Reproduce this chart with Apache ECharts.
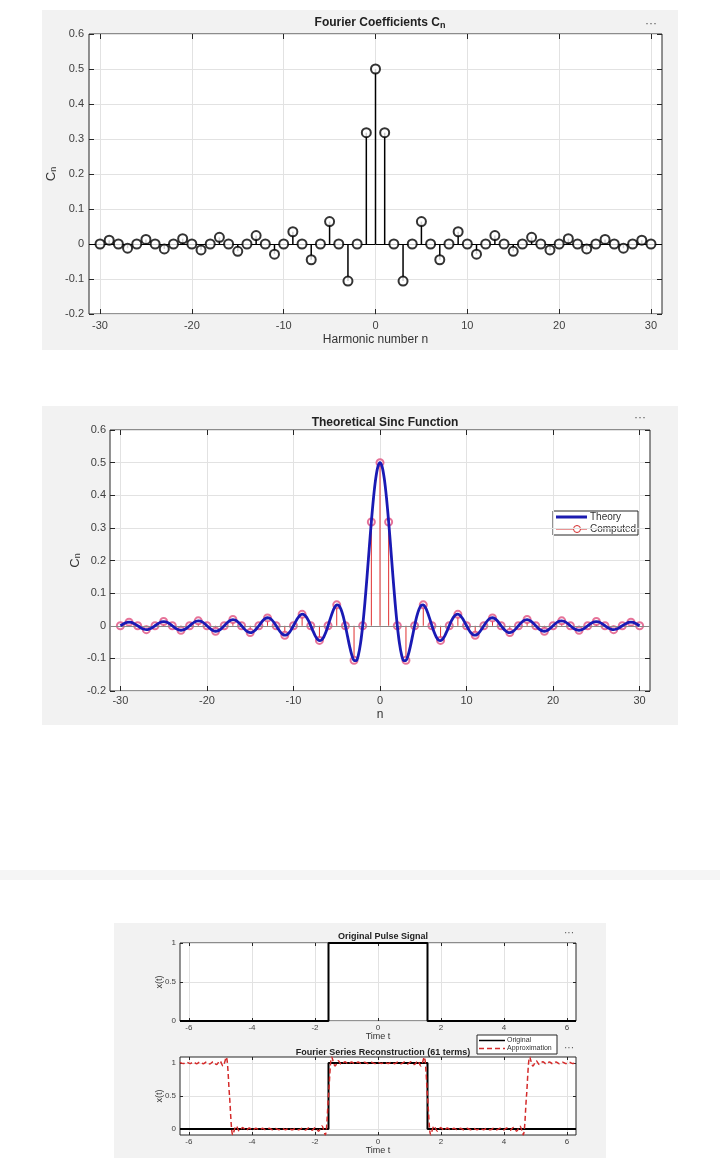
<!DOCTYPE html>
<html>
<head>
<meta charset="utf-8">
<script src="https://cdn.jsdelivr.net/npm/echarts@6/dist/echarts.min.js"></script>
<style>
html, body { margin: 0; padding: 0; background: #fff; }
#main { width: 720px; height: 1158px; }
</style>
</head>
<body>
<div id="main"></div>
<script>
// harmonic numbers and coefficients
var harmonics = [-30,-29,-28,-27,-26,-25,-24,-23,-22,-21,-20,-19,-18,-17,-16,-15,-14,-13,-12,-11,-10,-9,-8,-7,-6,-5,-4,-3,-2,-1,
	0,1,2,3,4,5,6,7,8,9,10,11,12,13,14,15,16,17,18,19,20,21,22,23,24,25,26,27,28,29,30];
var coeffs = [0,0.011,0,-0.012,0,0.013,0,-0.014,0,0.015,0,-0.017,0,0.019,0,-0.021,0,0.024,0,-0.029,0,0.035,0,-0.045,0,0.064,0,-0.106,0,0.318,
	0.5,0.318,0,-0.106,0,0.064,0,-0.045,0,0.035,0,-0.029,0,0.024,0,-0.021,0,0.019,0,-0.017,0,0.015,0,-0.014,0,0.013,0,-0.012,0,0.011,0];

// theory curve, n >= 0 in steps of 0.25 (curve is symmetric)
var theoryHalf = [0.5,0.4873,0.4502,0.3921,0.3183,0.2353,0.1500,0.0696,
	0,-0.0541,-0.0900,-0.1069,-0.1061,-0.0905,-0.0643,-0.0325,
	0,0.0287,0.0500,0.0619,0.0637,0.0560,0.0409,0.0212,
	0,-0.0195,-0.0346,-0.0436,-0.0455,-0.0406,-0.0300,-0.0157,
	0,0.0148,0.0265,0.0336,0.0354,0.0318,0.0237,0.0125,
	0,-0.0119,-0.0214,-0.0274,-0.0289,-0.0261,-0.0196,-0.0104,
	0,0.0099,0.0180,0.0231,0.0245,0.0222,0.0167,0.0089,
	0,-0.0085,-0.0155,-0.0199,-0.0212,-0.0193,-0.0145,-0.0077,
	0,0.0075,0.0136,0.0176,0.0187,0.0170,0.0129,0.0069,
	0,-0.0067,-0.0122,-0.0157,-0.0168,-0.0153,-0.0115,-0.0062,
	0,0.0060,0.0110,0.0142,0.0152,0.0138,0.0105,0.0056,
	0,-0.0055,-0.0100,-0.0129,-0.0138,-0.0126,-0.0096,-0.0051,
	0,0.0050,0.0092,0.0119,0.0127,0.0116,0.0088,0.0047,
	0,-0.0046,-0.0085,-0.0110,-0.0118,-0.0108,-0.0082,-0.0044,
	0,0.0043,0.0079,0.0102,0.0110,0.0101,0.0076,0.0041,
	0];
var theoryStep = 0.25;

var nTicks = [-30,-20,-10,0,10,20,30];
var tTicks = [-6,-4,-2,0,2,4,6];
var cTicks = [-0.2,-0.1,0,0.1,0.2,0.3,0.4,0.5,0.6];
var xTicks01 = [0,0.5,1];

// original pulse
var pulseT = [-6.2832,-1.5708,-1.5708,1.5708,1.5708,6.2832];
var pulseX = [0,0,1,1,0,0];

// reconstruction (61 terms), t >= 0 (signal is even)
var reconHalfT = [0,0.105,0.21,0.315,0.42,0.525,0.63,0.735,0.84,0.945,1.05,1.155,1.26,1.36,1.466,1.5708,
	1.675,1.78,1.885,1.99,2.095,2.2,2.305,2.41,2.515,2.62,2.725,2.83,2.935,3.04,3.1416,
	3.245,3.35,3.455,3.56,3.665,3.77,3.875,3.98,4.085,4.19,4.295,4.4,4.5,4.607,4.712,
	4.817,4.92,5.02,5.125,5.23,5.335,5.44,5.545,5.65,5.755,5.86,5.965,6.07,6.175,6.2832];
var reconHalfX = [1.010,0.990,1.011,0.990,1.012,0.989,1.013,0.987,1.016,0.984,1.020,0.975,1.033,0.952,1.089,0.500,
	-0.089,0.048,-0.033,0.025,-0.020,0.016,-0.014,0.013,-0.012,0.011,-0.011,0.011,-0.010,0.010,-0.010,
	0.010,-0.010,0.011,-0.011,0.011,-0.012,0.013,-0.014,0.016,-0.020,0.025,-0.033,0.048,-0.089,0.500,
	1.089,0.952,1.033,0.975,1.020,0.984,1.016,0.987,1.013,0.989,1.012,0.990,1.011,0.990,1.010];

var FONT = 'Liberation Sans, Arial, Helvetica, sans-serif';
var AX = '#262626';

function zip(a, b) {
	var out = [];
	for (var i = 0; i < a.length; i++) out.push([a[i], b[i]]);
	return out;
}

function mirror(ts, xs) {
	var out = [];
	for (var i = ts.length - 1; i > 0; i--) out.push([-ts[i], xs[i]]);
	for (var j = 0; j < ts.length; j++) out.push([ts[j], xs[j]]);
	return out;
}

var stemData = zip(harmonics, coeffs);
var theoryData = [];
for (var k = theoryHalf.length - 1; k > 0; k--) theoryData.push([-k * theoryStep, theoryHalf[k]]);
for (var k2 = 0; k2 < theoryHalf.length; k2++) theoryData.push([k2 * theoryStep, theoryHalf[k2]]);
var pulseData = zip(pulseT, pulseX);
var reconData = mirror(reconHalfT, reconHalfX);

/*
 * axis pairs (labelled + mirrored side with inward ticks)
 */
function xPair(g, min, max, ticks, fs, tlen, name, gap, margin) {
	return [{
		type: 'value', gridIndex: g, min: min, max: max, position: 'bottom',
		axisLine: { show: false, onZero: false },
		axisTick: { inside: true, length: tlen, customValues: ticks, lineStyle: { color: AX } },
		axisLabel: { customValues: ticks, fontSize: fs, color: '#404040', fontFamily: FONT, margin: margin },
		splitLine: { show: true, lineStyle: { color: '#e2e2e2' } },
		name: name, nameLocation: 'middle', nameGap: gap, nameMoveOverlap: false,
		nameTextStyle: { fontSize: fs + 1, color: '#333', fontFamily: FONT }
	}, {
		type: 'value', gridIndex: g, min: min, max: max, position: 'top',
		axisLine: { show: false, onZero: false },
		axisTick: { inside: true, length: tlen, customValues: ticks, lineStyle: { color: AX } },
		axisLabel: { show: false }, splitLine: { show: false }
	}];
}

function yPair(g, min, max, ticks, fs, tlen, name, gap, margin) {
	return [{
		type: 'value', gridIndex: g, min: min, max: max, position: 'left',
		axisLine: { show: false, onZero: false },
		axisTick: { inside: true, length: tlen, customValues: ticks, lineStyle: { color: AX } },
		axisLabel: { customValues: ticks, fontSize: fs, color: '#404040', fontFamily: FONT, margin: margin },
		splitLine: { show: true, lineStyle: { color: '#e2e2e2' } },
		name: name, nameLocation: 'middle', nameGap: gap, nameRotate: 90, nameMoveOverlap: false,
		nameTextStyle: {
			fontSize: fs + 1, color: '#333', fontFamily: FONT,
			rich: { c: { fontSize: fs + 2, color: '#333', fontFamily: FONT }, s: { fontSize: fs - 2, color: '#333', fontFamily: FONT, verticalAlign: 'bottom', padding: [5, 0, 0, 0] } }
		}
	}, {
		type: 'value', gridIndex: g, min: min, max: max, position: 'right',
		axisLine: { show: false, onZero: false },
		axisTick: { inside: true, length: tlen, customValues: ticks, lineStyle: { color: AX } },
		axisLabel: { show: false }, splitLine: { show: false }
	}];
}

var xAxes = [].concat(
	xPair(0, -31.2, 31.2, nTicks, 11, 5, 'Harmonic number n', 20, 6),
	xPair(1, -31.2, 31.2, nTicks, 11, 5, 'n', 18, 4),
	xPair(2, -6.2832, 6.2832, tTicks, 8, 3, 'Time t', 11, 3),
	xPair(3, -6.2832, 6.2832, tTicks, 8, 3, 'Time t', 11, 3)
);
var yAxes = [].concat(
	yPair(0, -0.2, 0.6, cTicks, 11, 5, '{c|C}{s|n}', 31, 5),
	yPair(1, -0.2, 0.6, cTicks, 11, 5, '{c|C}{s|n}', 28, 4),
	yPair(2, 0, 1, xTicks01, 8, 3, 'x(t)', 16, 4),
	yPair(3, -0.09, 1.09, xTicks01, 8, 3, 'x(t)', 16, 4)
);

function gridBox(left, top, width, height) {
	return { left: left, top: top, width: width, height: height, show: true, backgroundColor: '#fff', borderColor: AX, borderWidth: 1 };
}

function stemSeries(xi, yi, color, width) {
	return {
		type: 'custom', xAxisIndex: xi, yAxisIndex: yi, data: stemData, silent: true,
		encode: { x: 0, y: 1 },
		renderItem: function (params, api) {
			var p0 = api.coord([api.value(0), 0]);
			var p1 = api.coord([api.value(0), api.value(1)]);
			return { type: 'line', shape: { x1: p0[0], y1: p0[1], x2: p1[0], y2: p1[1] }, style: { stroke: color, lineWidth: width } };
		}
	};
}

function titleText(text, x, y, fs) {
	return {
		text: text, left: x, top: y, textAlign: 'center',
		textStyle: {
			fontSize: fs, fontWeight: 'bold', color: '#222', fontFamily: FONT,
			rich: {
				t: { fontSize: fs, fontWeight: 'bold', color: '#222', fontFamily: FONT },
				s: { fontSize: fs - 3, fontWeight: 'bold', color: '#222', fontFamily: FONT, verticalAlign: 'bottom', padding: [6, 0, 0, 0] }
			}
		}
	};
}

function dots(x, y, fs) {
	return { type: 'text', left: x, top: y, z: 50, style: { text: '···', fontSize: fs, fill: '#555', fontFamily: FONT } };
}

var option = {
	backgroundColor: '#fff',
	animation: false,
	title: [
		titleText('{t|Fourier Coefficients C}{s|n}', 375, 10, 12),
		titleText('Theoretical Sinc Function', 380, 412, 12),
		titleText('Original Pulse Signal', 378, 927, 9),
		titleText('Fourier Series Reconstruction (61 terms)', 378, 1043, 9)
	],
	grid: [
		gridBox(89, 34, 573, 280),
		gridBox(110, 430, 540, 261),
		gridBox(180, 943, 396, 78),
		gridBox(180, 1057, 396, 78)
	],
	xAxis: xAxes,
	yAxis: yAxes,
	graphic: [
		{ type: 'rect', z: -10, shape: { x: 42, y: 10, width: 636, height: 340 }, style: { fill: '#f2f2f2' } },
		{ type: 'rect', z: -10, shape: { x: 42, y: 406, width: 636, height: 319 }, style: { fill: '#f2f2f2' } },
		{ type: 'rect', z: -10, shape: { x: 0, y: 870, width: 720, height: 10 }, style: { fill: '#f5f5f5' } },
		{ type: 'rect', z: -10, shape: { x: 114, y: 923, width: 492, height: 235 }, style: { fill: '#f2f2f2' } },
		dots(645, 18, 12),
		dots(634, 412, 12),
		dots(564, 928, 10),
		dots(564, 1043, 10),
		// legend, sinc panel
		{ type: 'group', z: 100, children: [
			{ type: 'rect', shape: { x: 553, y: 511, width: 85, height: 24 }, style: { fill: '#fff', stroke: AX, lineWidth: 1 } },
			{ type: 'line', shape: { x1: 556, y1: 517, x2: 587, y2: 517 }, style: { stroke: '#1c1cb0', lineWidth: 3 } },
			{ type: 'text', x: 590, y: 517, style: { text: 'Theory', fontSize: 10, fill: '#333', fontFamily: FONT, verticalAlign: 'middle' } },
			{ type: 'line', shape: { x1: 556, y1: 529, x2: 587, y2: 529 }, style: { stroke: '#d42a2a', lineWidth: 1 } },
			{ type: 'circle', shape: { cx: 577, cy: 529, r: 3.5 }, style: { fill: '#fff', stroke: '#d42a2a', lineWidth: 1 } },
			{ type: 'text', x: 590, y: 529, style: { text: 'Computed', fontSize: 10, fill: '#333', fontFamily: FONT, verticalAlign: 'middle' } }
		] },
		// legend, reconstruction panel
		{ type: 'group', z: 100, children: [
			{ type: 'rect', shape: { x: 477, y: 1035, width: 80, height: 19 }, style: { fill: '#fff', stroke: AX, lineWidth: 1 } },
			{ type: 'line', shape: { x1: 479, y1: 1040.5, x2: 505, y2: 1040.5 }, style: { stroke: '#000', lineWidth: 1.5 } },
			{ type: 'text', x: 507, y: 1040.5, style: { text: 'Original', fontSize: 7, fill: '#333', fontFamily: FONT, verticalAlign: 'middle' } },
			{ type: 'line', shape: { x1: 479, y1: 1048.5, x2: 505, y2: 1048.5 }, style: { stroke: '#d42a2a', lineWidth: 1.5, lineDash: [5, 3] } },
			{ type: 'text', x: 507, y: 1048.5, style: { text: 'Approximation', fontSize: 7, fill: '#333', fontFamily: FONT, verticalAlign: 'middle' } }
		] }
	],
	series: [
		// panel 1: stem plot
		stemSeries(0, 0, '#000', 1.5),
		{
			type: 'scatter', xAxisIndex: 0, yAxisIndex: 0, data: stemData, symbol: 'emptyCircle', symbolSize: 9,
			itemStyle: { color: '#000', borderColor: '#000', borderWidth: 1.6 }, silent: true, z: 5,
			markLine: { silent: true, symbol: 'none', label: { show: false }, lineStyle: { color: '#000', width: 1, type: 'solid' }, data: [{ yAxis: 0 }] }
		},
		// panel 2: computed stems under the theory curve
		stemSeries(2, 2, '#e03030', 1),
		{
			type: 'scatter', xAxisIndex: 2, yAxisIndex: 2, data: stemData, symbol: 'emptyCircle', symbolSize: 7,
			itemStyle: { color: '#e0507f', borderColor: '#e0507f', borderWidth: 0.8 }, silent: true, z: 3,
			markLine: { silent: true, symbol: 'none', label: { show: false }, lineStyle: { color: '#888', width: 1, type: 'solid' }, data: [{ yAxis: 0 }] }
		},
		{
			type: 'line', xAxisIndex: 2, yAxisIndex: 2, data: theoryData, smooth: 0.3, showSymbol: false,
			lineStyle: { color: '#1a1ab4', width: 2.8 }, silent: true, z: 6
		},
		// panel 3: pulse
		{
			type: 'line', xAxisIndex: 4, yAxisIndex: 4, data: pulseData, showSymbol: false,
			lineStyle: { color: '#000', width: 2 }, silent: true
		},
		// panel 4: reconstruction
		{
			type: 'line', xAxisIndex: 6, yAxisIndex: 6, data: pulseData, showSymbol: false,
			lineStyle: { color: '#000', width: 2 }, silent: true
		},
		{
			type: 'line', xAxisIndex: 6, yAxisIndex: 6, data: reconData, showSymbol: false, smooth: 0.3,
			lineStyle: { color: '#d42a2a', width: 1.5, type: [5, 3] }, silent: true, z: 4
		}
	]
};

var myChart = echarts.init(document.getElementById('main'), null, { renderer: 'canvas' });
myChart.setOption(option);
</script>
</body>
</html>
